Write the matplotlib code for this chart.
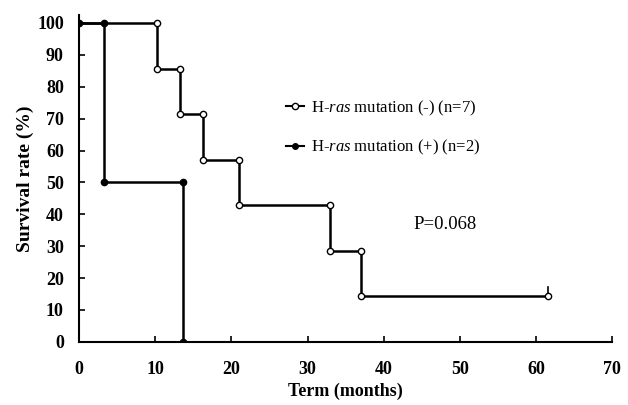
import numpy as np
import matplotlib.pyplot as plt
from matplotlib.lines import Line2D

plt.rcParams['font.family'] = ['Liberation Serif', 'DejaVu Serif']
plt.rcParams['mathtext.fontset'] = 'custom'
plt.rcParams['mathtext.rm'] = 'Liberation Serif'
plt.rcParams['mathtext.it'] = 'Liberation Serif:italic'

# Kaplan-Meier style data
neg_times = [0, 10.2, 13.2, 16.3, 21.0, 33.0, 37.0, 61.6]
neg_surv = [100, 85.7, 71.4, 57.1, 42.9, 28.6, 14.3, 14.3]
pos_times = [0, 3.2, 13.7]
pos_surv = [100, 50, 0]

neg_label = 'H-$\\mathit{ras}$ mutation (-) (n=7)'
pos_label = 'H-$\\mathit{ras}$ mutation (+) (n=2)'
p_text = 'P=0.068'

xticks = np.arange(0, 71, 10)
yticks = np.arange(0, 101, 10)


def corners(t, s):
    """step corners: each event gives a point before and after the drop"""
    xs, ys = [], []
    for i in range(1, len(t)):
        xs.append(t[i])
        ys.append(s[i - 1])
        if s[i] != s[i - 1]:
            xs.append(t[i])
            ys.append(s[i])
    return xs, ys


fig = plt.figure(figsize=(6.28, 4.05), dpi=100)
ax = fig.add_axes([0.126, 0.156, 0.849, 0.807])

lw = 1.8
ax.step(neg_times, neg_surv, where='post', color='black', lw=lw, zorder=2)
ax.step(pos_times, pos_surv, where='post', color='black', lw=lw, zorder=2)

nx, ny = corners(neg_times, neg_surv)
ax.plot(nx, ny, 'o', ms=4.5, mfc='white', mec='black', mew=1.0, zorder=3)
px, py = corners(pos_times, pos_surv)
px = [pos_times[0]] + px
py = [pos_surv[0]] + py
ax.plot(px, py, 'o', ms=4.5, mfc='black', mec='black', zorder=3)

# censored tick at the end of the (-) curve
ax.plot([neg_times[-1], neg_times[-1]], [neg_surv[-1], neg_surv[-1] + 3],
        color='black', lw=1.2)

ax.set_xlim(0, 70)
ax.set_ylim(0, 102.5)
ax.set_xticks(xticks)
ax.set_yticks(yticks)
for s in ['top', 'right']:
    ax.spines[s].set_visible(False)
for s in ['left', 'bottom']:
    ax.spines[s].set_linewidth(1.5)
ax.tick_params(direction='in', length=4, width=1.2, labelsize=13)
ax.tick_params(axis='x', pad=14)
ax.tick_params(axis='y', pad=11)
for lab in ax.get_xticklabels() + ax.get_yticklabels():
    lab.set_fontweight('bold')

ax.set_xlabel('Term (months)', fontsize=13, fontweight='bold', labelpad=3)
ax.set_ylabel('Survival rate (%)', fontsize=14, fontweight='bold', labelpad=2)

handles = [
    Line2D([], [], color='black', lw=1.5, marker='o', ms=4.5, mfc='white', mew=1.0),
    Line2D([], [], color='black', lw=1.5, marker='o', ms=4, mfc='black'),
]
ax.legend(handles, [neg_label, pos_label], loc='upper left',
          bbox_to_anchor=(0.36, 0.79), frameon=False, fontsize=12,
          handlelength=1.1, handletextpad=0.4, labelspacing=1.2)

ax.text(43.9, 36.7, p_text, fontsize=13.5, va='center', ha='left')

fig.savefig('out.png', dpi=100)
